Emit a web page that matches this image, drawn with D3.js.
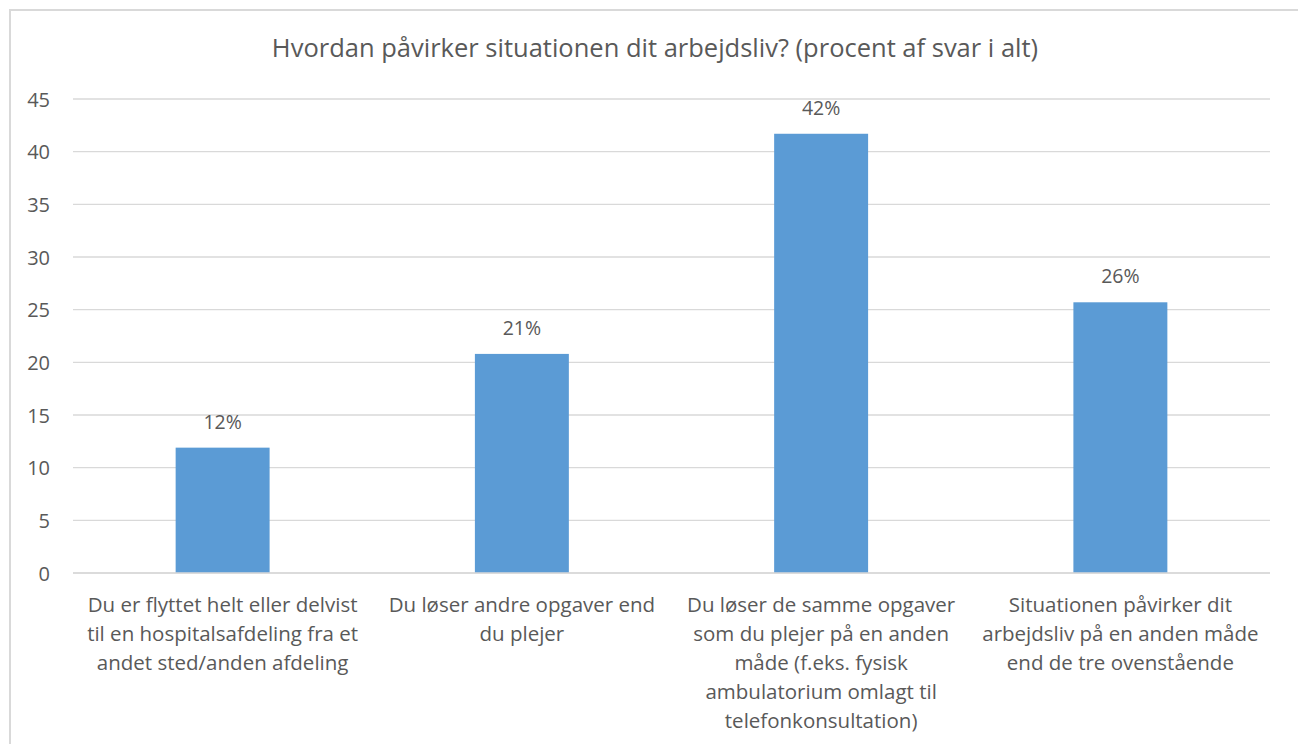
<!DOCTYPE html>
<html><head><meta charset="utf-8">
<script src="https://cdn.jsdelivr.net/npm/d3@7"></script>
<style>
html,body{margin:0;padding:0;background:#fff;}
svg text{font-family:"Open Sans","Noto Sans",sans-serif;fill:#595959;}
</style></head>
<body><svg id="chart" width="1298" height="744"></svg>
<script>
const title = "Hvordan påvirker situationen dit arbejdsliv? (procent af svar i alt)";
const categories = [
  "Du er flyttet helt eller delvist\ntil en hospitalsafdeling fra et\nandet sted/anden afdeling",
  "Du løser andre opgaver end\ndu plejer",
  "Du løser de samme opgaver\nsom du plejer på en anden\nmåde (f.eks. fysisk\nambulatorium omlagt til\ntelefonkonsultation)",
  "Situationen påvirker dit\narbejdsliv på en anden måde\nend de tre ovenstående"
];
const values = [11.9, 20.8, 41.7, 25.7];
const valueLabels = ["12%", "21%", "42%", "26%"];
const yTicks = [0, 5, 10, 15, 20, 25, 30, 35, 40, 45];

(function(){
const svg = d3.select("#chart");
const pLeft = 73, pRight = 1270, pTop = 99, pBottom = 573;

svg.append("path").attr("d", `M10,744 L10,10 L1298,10`).attr("fill","none").attr("stroke","#d9d9d9").attr("stroke-width",2);

svg.append("text").attr("x", 655).attr("y", 57).attr("text-anchor","middle")
  .style("font-size","25.5px").text(title);

const x = d3.scaleBand().domain(d3.range(categories.length)).range([pLeft, pRight])
  .paddingInner(0.686).paddingOuter(0.343);
const y = d3.scaleLinear().domain([0,45]).range([pBottom, pTop]);

svg.append("g").selectAll("line").data(yTicks).join("line")
  .attr("x1", pLeft).attr("x2", pRight)
  .attr("y1", d=>y(d)).attr("y2", d=>y(d))
  .attr("stroke","#d9d9d9").attr("stroke-width",1.3);

const yAxis = d3.axisLeft(y).tickValues(yTicks).tickSize(0).tickPadding(0);
const ga = svg.append("g").attr("transform", `translate(50,0)`).call(yAxis);
ga.select(".domain").remove();
ga.selectAll("text").style("font-size","20px").attr("fill","#595959").attr("dy","0.36em")
  .style("font-family",'"Open Sans","Noto Sans",sans-serif');

svg.append("g").selectAll("rect").data(values).join("rect")
  .attr("x", (d,i)=>x(i)).attr("width", x.bandwidth())
  .attr("y", d=>y(d)).attr("height", d=>y(0)-y(d))
  .attr("fill","#5b9bd5");

svg.append("g").selectAll("text").data(values).join("text")
  .attr("x", (d,i)=>x(i)+x.bandwidth()/2).attr("y", d=>y(d)-19)
  .attr("text-anchor","middle").style("font-size","19.5px")
  .text((d,i)=>valueLabels[i]);

const cl = svg.append("g").selectAll("text").data(categories).join("text")
  .attr("text-anchor","middle").style("font-size","20.5px")
  .attr("transform",(d,i)=>`translate(${x(i)+x.bandwidth()/2},612)`);
cl.each(function(d){
  const t = d3.select(this);
  d.split("\n").forEach((line,k)=>{
    t.append("tspan").attr("x",0).attr("y", k*29).text(line);
  });
});
svg.append("line").attr("x1",pLeft).attr("x2",pRight).attr("y1",y(0)).attr("y2",y(0))
  .attr("stroke","#d9d9d9").attr("stroke-width",1.5);
})();
</script></body></html>
